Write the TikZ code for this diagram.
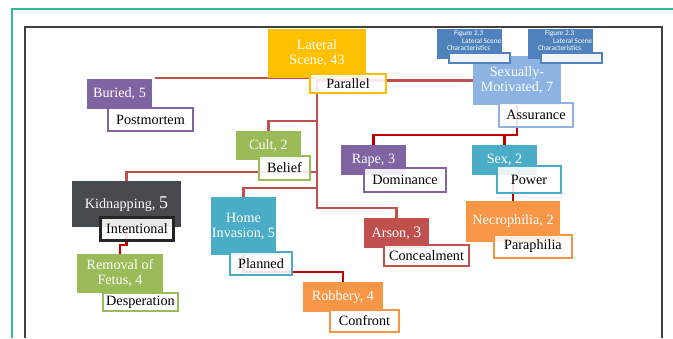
\documentclass[tikz,border=0pt]{standalone}
\usepackage{fontspec}
\setmainfont{Liberation Serif}
\newfontfamily\figfont{Carlito}
\usetikzlibrary{positioning,backgrounds}
\definecolor{gold}{HTML}{FFC000}
\definecolor{grape}{HTML}{8064A2}
\definecolor{leaf}{HTML}{9BBB59}
\definecolor{slate}{HTML}{474A4F}
\definecolor{ink}{HTML}{262626}
\definecolor{aqua}{HTML}{4BACC6}
\definecolor{tangerine}{HTML}{F79646}
\definecolor{brick}{HTML}{C0504D}
\definecolor{sky}{HTML}{8DB3E2}
\definecolor{steel}{HTML}{4F81BD}
\definecolor{wire}{HTML}{C0504D}
\definecolor{hotwire}{HTML}{C00000}
\definecolor{mint}{HTML}{35B99E}
\definecolor{rim}{HTML}{404040}

\begin{document}
\begin{tikzpicture}[x=1pt,y=-1pt,
  every node/.style={font=\fontsize{14.2}{15}\selectfont,inner sep=1pt},
  box/.style={fill=#1,text=white,align=center},
  tag/.style={draw=#1,fill=white,fill opacity=.88,text opacity=1,line width=2.3pt,text=black},
  figbox/.style={fill=steel,minimum width=65pt,minimum height=30pt},
  figtag/.style={draw=steel,fill=steel!8,line width=1.8pt,minimum width=61pt,minimum height=10pt},
  figtext/.style={font=\figfont\fontsize{7.3}{7.5}\selectfont,text=white,align=left,inner sep=0pt},
  link/.style={draw=wire,line width=2.4pt},
  hotlink/.style={draw=hotwire,line width=2.4pt}]
\useasboundingbox (0,0) rectangle (673,338);
\draw[mint,line width=1.2pt] (12,338) |- (673,9);
\draw[rim,line width=1.5pt] (25,338) |- (662,27) -- (662,338);

\node[box=gold,minimum width=98pt,minimum height=49pt] (lat) at (317,53.5) {Lateral\\Scene, 43};
\node[tag=gold,minimum width=75.7pt,minimum height=18.7pt] (par) at (348,83.5) {Parallel};
\node[box=grape,minimum width=65pt,minimum height=30pt] (buried) at (119.5,94) {Buried, 5};
\node[tag=grape,minimum width=84.7pt,minimum height=22.7pt] (post) at (150.5,119.5) {Postmortem};
\node[box=leaf,minimum width=65pt,minimum height=29pt] (cult) at (268.5,145.5) {Cult, 2};
\node[tag=leaf,minimum width=50.7pt,minimum height=23.7pt] (belief) at (284.5,168) {Belief};
\node[box=slate,minimum width=109pt,minimum height=46pt] (kid) at (126.5,204) {Kidnapping, {\fontsize{18}{18}\selectfont 5}};
\node[tag=ink,line width=3pt,minimum width=73pt,minimum height=23pt] (intent) at (137,229) {Intentional};
\node[box=leaf,minimum width=86pt,minimum height=39pt] (removal) at (120,273.5) {Removal of\\Fetus, 4};
\node[tag=leaf,minimum width=74.7pt,minimum height=17.7pt] (desp) at (140.5,302) {Desperation};
\node[box=aqua,minimum width=65pt,minimum height=58pt] (home) at (243.5,226) {Home\\Invasion, 5};
\node[tag=aqua,minimum width=61.7pt,minimum height=22.7pt] (plan) at (261,263.5) {Planned};
\node[box=tangerine,minimum width=80pt,minimum height=30pt] (rob) at (343,297) {Robbery, 4};
\node[tag=tangerine,minimum width=68.7pt,minimum height=21.7pt] (conf) at (364.5,321) {Confront};
\node[box=brick,minimum width=65pt,minimum height=30pt] (arson) at (396.5,233) {Arson, {\fontsize{16}{16}\selectfont 3}};
\node[tag=brick,minimum width=84.7pt,minimum height=20.7pt] (conc) at (426.5,255.5) {Concealment};
\node[box=sky,minimum width=88pt,minimum height=49pt] (sexmot) at (517,80.5) {Sexually-\\Motivated, 7};
\node[tag=sky,minimum width=73.7pt,minimum height=23.7pt] (assur) at (536,115) {Assurance};
\node[box=grape,minimum width=65pt,minimum height=30pt] (rape) at (373.5,160) {Rape, 3};
\node[tag=grape,minimum width=81.7pt,minimum height=23.7pt] (dom) at (405,180) {Dominance};
\node[box=aqua,minimum width=65pt,minimum height=30pt] (sex) at (504.5,160) {Sex, 2};
\node[tag=aqua,minimum width=63.7pt,minimum height=26.7pt] (power) at (529,179.5) {Power};
\node[box=tangerine,minimum width=94pt,minimum height=41pt] (necro) at (513,221.5) {Necrophilia, 2};
\node[tag=tangerine,minimum width=77.7pt,minimum height=22.7pt] (para) at (533,246.5) {Paraphilia};

\node[figbox] (fig1) at (469.5,44) {};
\node[figtag] (fig1w) at (479.5,58) {};
\node[figtext,below right=1.5pt and 10pt of fig1.north west] (fig1t) {\hspace*{7pt}Figure 2.3\\\hspace*{15pt}Lateral Scene\\Characteristics};
\node[figbox] (fig2) at (560.5,44) {};
\node[figtag] (fig2w) at (571.5,58) {};
\node[figtext,below right=1.5pt and 10pt of fig2.north west] (fig2t) {\hspace*{7pt}Figure 2.3\\\hspace*{15pt}Lateral Scene\\Characteristics};

\begin{scope}[on background layer]
\draw[link] ([yshift=.5pt]lat.south) -| ([xshift=4pt]buried.north east);
\draw[link] (lat.south) -- ++(0,130) -| (arson.north);
\draw[link] (lat.south) ++(0,43) -| (cult.north);
\draw[link] (lat.south) ++(0,94) -| (kid.north);
\draw[link] (lat.south) ++(0,110) -| (home.north);
\draw[link] (lat.south |- sexmot.west) -- (sexmot.west);
\draw[hotlink] (sexmot.south) -- ++(0,30) -| (rape.north);
\draw[hotlink] (sexmot.south) ++(0,30) -| (sex.north);
\draw[hotlink] (sex.south -| necro.north) -- (necro.north);
\draw[hotlink] (kid.south) -- ++(0,18) -| (removal.north);
\draw[hotlink] (home.south) -- ++(0,17) -| (rob.north);
\end{scope}
\end{tikzpicture}
\end{document}
